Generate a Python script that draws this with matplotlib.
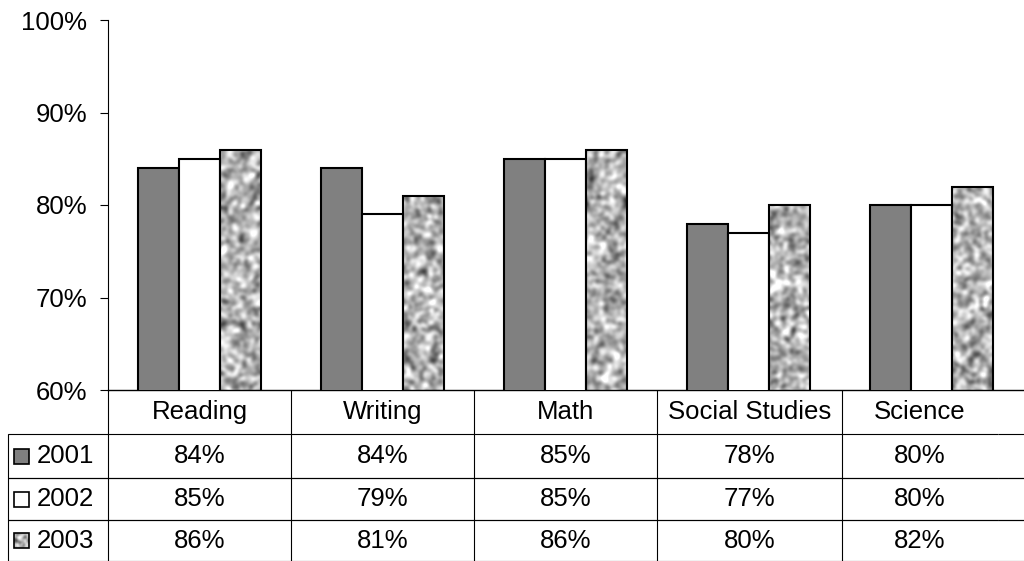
import numpy as np
import matplotlib
matplotlib.use("Agg")
import matplotlib.pyplot as plt
from matplotlib.table import Table
from matplotlib.patches import Rectangle

plt.rcParams["font.family"] = ["Liberation Sans", "DejaVu Sans"]

categories = ["Reading", "Writing", "Math", "Social Studies", "Science"]
years = ["2001", "2002", "2003"]
v2001 = [84, 84, 85, 78, 80]
v2002 = [85, 79, 85, 77, 80]
v2003 = [86, 81, 86, 80, 82]
yticks = [60, 70, 80, 90, 100]

FS = 18.5


def granite(h, w, seed, sigma=2.2):
    """Smoothed noise used as a stone-like fill texture."""
    rng = np.random.default_rng(seed)
    n = rng.random((h, w))
    ky = np.fft.fftfreq(h)[:, None]
    kx = np.fft.fftfreq(w)[None, :]
    g = np.exp(-2 * (np.pi * sigma) ** 2 * (kx ** 2 + ky ** 2))
    s = np.real(np.fft.ifft2(np.fft.fft2(n) * g))
    s = (s - s.mean()) / s.std()
    return s


fig = plt.figure(figsize=(10.24, 5.61), dpi=100)
ax = fig.add_axes([108 / 1024, 171 / 561, 915.5 / 1024, 370 / 561])

x = np.arange(len(categories))
bw = 0.224
lw = 1.5
ax.bar(x - bw, v2001, bw, color="#808080", edgecolor="black", linewidth=lw, zorder=3)
ax.bar(x, v2002, bw, color="white", edgecolor="black", linewidth=lw, zorder=3)
bars3 = ax.bar(x + bw, v2003, bw, color="none", edgecolor="black", linewidth=lw, zorder=3)

TEX_MIN, TEX_MAX = -5.5, 2.3
for i, rect in enumerate(bars3):
    x0, w, h = rect.get_x(), rect.get_width(), rect.get_height()
    tex = granite(int((h - 60) * 9.3) + 2, 42, seed=10 + i)
    im = ax.imshow(tex, extent=[x0, x0 + w, 60, h], aspect="auto", cmap="gray",
                   vmin=TEX_MIN, vmax=TEX_MAX, zorder=2, interpolation="bilinear")
    im.set_clip_path(rect)

ax.set_xlim(-0.5, len(categories) - 0.5)
ax.set_ylim(60, 100)
ax.set_yticks(yticks)
ax.set_yticklabels([f"{t}%" for t in yticks], fontsize=FS)
ax.set_xticks([])
ax.tick_params(axis="y", direction="out", length=6, width=0.8, pad=9)
for s in ["top", "right"]:
    ax.spines[s].set_visible(False)
ax.spines["left"].set_linewidth(0.8)
ax.spines["bottom"].set_linewidth(1.0)

# data table below the plot: column 0 holds the legend labels
tab_ax = fig.add_axes([8 / 1024, 0, 1016 / 1024, 171 / 561])
tab_ax.axis("off")
table = Table(tab_ax, bbox=[0, 0, 1, 1])
col_w = [183, 183, 183, 185, 156]
row_h = [44, 44, 42, 41]
label_w = 100
extra_w = 26
series = [v2001, v2002, v2003]
ncat = len(categories)

hl = table.add_cell(0, 0, label_w, row_h[0], text="", facecolor="none", edgecolor="black")
hl.visible_edges = "open"
for c, name in enumerate(categories):
    cell = table.add_cell(0, c + 1, col_w[c], row_h[0], text=name, loc="center",
                          facecolor="none", edgecolor="black")
    cell.visible_edges = "L"
he = table.add_cell(0, ncat + 1, extra_w, row_h[0], text="", facecolor="none",
                    edgecolor="black")
he.visible_edges = "open"

for r, (yr, vals) in enumerate(zip(years, series), start=1):
    cell = table.add_cell(r, 0, label_w, row_h[r], text=yr, loc="left",
                          facecolor="none", edgecolor="black")
    cell.PAD = 0.29
    cell.visible_edges = "LTB"
    for c, v in enumerate(vals):
        cc = table.add_cell(r, c + 1, col_w[c], row_h[r], text=f"{v}%", loc="center",
                            facecolor="none", edgecolor="black")
        cc.visible_edges = "LTB"
    ce = table.add_cell(r, ncat + 1, extra_w, row_h[r], text="", facecolor="none",
                        edgecolor="black")
    ce.visible_edges = "TB"

table.auto_set_font_size(False)
table.set_fontsize(FS)
for cell in table.get_celld().values():
    cell.set_linewidth(0.8)
tab_ax.add_table(table)

fig.canvas.draw()

# legend keys inside the label cells
sq_w = 15 / 1016
sq_h = 15 / 171
fills = ["#808080", "white", None]
for r, fc in enumerate(fills, start=1):
    cell = table[r, 0]
    cx = cell.get_x() + 6 / 1016
    cy = cell.get_y() + cell.get_height() / 2 - sq_h / 2
    sq = Rectangle((cx, cy), sq_w, sq_h, transform=tab_ax.transAxes,
                   facecolor=fc if fc else "none", edgecolor="black",
                   linewidth=1.2, zorder=5, clip_on=False)
    tab_ax.add_patch(sq)
    if fc is None:
        im = tab_ax.imshow(granite(16, 16, seed=3, sigma=1.5),
                           extent=[cx, cx + sq_w, cy, cy + sq_h], aspect="auto",
                           cmap="gray", vmin=TEX_MIN, vmax=TEX_MAX, zorder=4,
                           interpolation="bilinear")
        im.set_clip_path(sq)
tab_ax.set_xlim(0, 1)
tab_ax.set_ylim(0, 1)

fig.savefig("out.png", dpi=100)
